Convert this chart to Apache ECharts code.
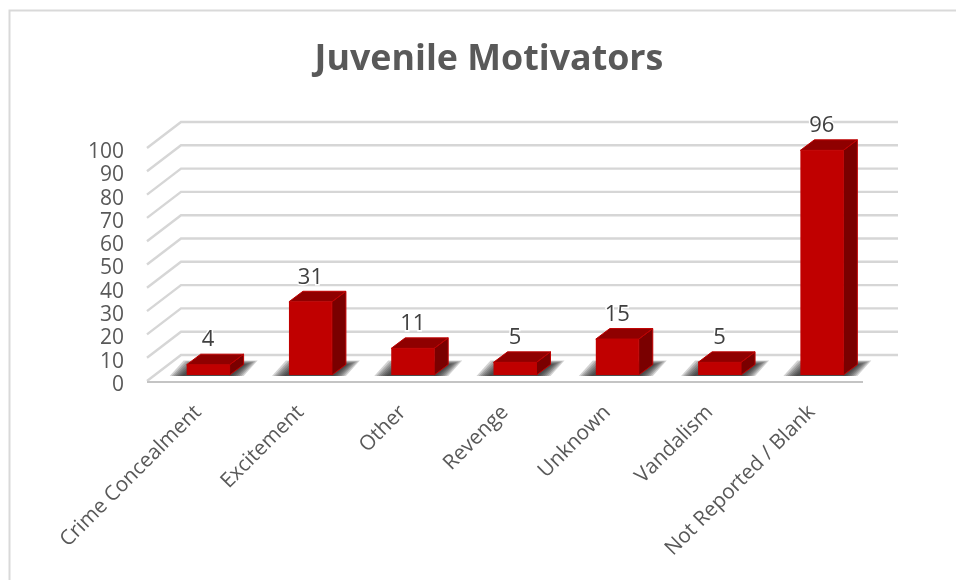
<!DOCTYPE html>
<html><head><meta charset="utf-8">
<style>html,body{margin:0;padding:0;background:#fff}#c{width:956px;height:580px}</style>
<script src="https://cdn.jsdelivr.net/npm/echarts@6/dist/echarts.min.js"></script>
</head><body><div id="c"></div>
<script>
const titleText = 'Juvenile Motivators';
const categories = ['Crime Concealment','Excitement','Other','Revenge','Unknown','Vandalism','Not Reported / Blank'];
const values = [4,31,11,5,15,5,96];
const yTicks = [0,10,20,30,40,50,60,70,80,90,100];

const FONT = '"Open Sans"';
const TXT = '#595959';
const WALL_DX = 34, WALL_DY = -26;
const BAR_DX = 14, BAR_DY = -10.5;
const BAR_SHIFT_X = 10, BAR_LIFT = 6;

const chart = echarts.init(document.getElementById('c'), null, {renderer:'canvas'});

function renderGrid(params, api){
  const v = api.value(0);
  const cs = params.coordSys;
  const y = api.coord([0, v])[1];
  const x0 = cs.x, x1 = cs.x + cs.width;
  const st = {stroke: '#d6d6d6', lineWidth: 2.4, fill: null};
  const kids = [
    {type:'polyline', shape:{points:[[x0,y],[x0+WALL_DX,y+WALL_DY],[x1+WALL_DX+1,y+WALL_DY]]}, style:st}
  ];
  if (v === 0) kids.push({type:'line', shape:{x1:x0,y1:y+1,x2:x1,y2:y+1}, style:{stroke:'#c4c4c4',lineWidth:2}});
  return {type:'group', children:kids};
}

function renderShadow(params, api){
  const i = api.value(0);
  const band = api.size([1,0])[0];
  const w = band*0.42;
  const xc = api.coord([i,0])[0] + BAR_SHIFT_X;
  const base = api.coord([i,0])[1] - BAR_LIFT;
  const l = xc-w/2, r = xc+w/2;
  const layers = [];
  for (let k = 0; k < 7; k++) {
    const e = 12 - 2*k;
    layers.push({type:'polygon', shape:{points:[
      [l-5-e, base+1],
      [r+2+e, base+1],
      [r+BAR_DX+2+e, base+BAR_DY-e/3],
      [l+BAR_DX-5-e, base+BAR_DY-e/3]
    ]}, style:{fill:'rgba(30,30,30,0.2)'}});
  }
  return {type:'group', children:layers};
}

function renderBar(params, api){
  const i = api.value(0), v = api.value(1);
  const band = api.size([1,0])[0];
  const w = band*0.42;
  const xc = api.coord([i,0])[0] + BAR_SHIFT_X;
  const base = api.coord([i,0])[1] - BAR_LIFT;
  const top = api.coord([i,v])[1] - BAR_LIFT - 1;
  const l = xc-w/2, r = xc+w/2;
  const edge = {stroke:'#c00000', lineWidth:1, lineJoin:'round'};
  return {type:'group', children:[
    {type:'polygon', shape:{points:[[r,top],[r+BAR_DX,top+BAR_DY],[r+BAR_DX,base+BAR_DY],[r,base]]},
      style:Object.assign({fill:'#7a0000'},edge)},
    {type:'polygon', shape:{points:[[l,top],[l+BAR_DX,top+BAR_DY],[r+BAR_DX,top+BAR_DY],[r,top]]},
      style:Object.assign({fill:'#8f0000'},edge)},
    {type:'rect', shape:{x:l,y:top,width:w,height:base-top},
      style:{fill:'#c00000'}},
    {type:'text', style:{text:String(v), x:xc, y:top+BAR_DY-14, align:'center', verticalAlign:'middle',
      fontFamily:FONT, fontSize:22, fill:'#404040', stroke:'#fff', lineWidth:3}}
  ]};
}

chart.setOption({
  animation:false,
  backgroundColor:'#fff',
  title:{text:titleText,left:484,top:37,textAlign:'center',
    textStyle:{fontFamily:FONT,fontSize:35.8,fontWeight:'bold',color:TXT}},
  graphic:[{type:'polyline',silent:true,shape:{points:[[9.5,580],[9.5,10.5],[956,10.5]]},
    style:{stroke:'#d9d9d9',lineWidth:2,fill:null}}],
  grid:{left:147,right:93,top:148,bottom:199},
  xAxis:{type:'category',data:categories,axisLine:{show:false},axisTick:{show:false},
    axisLabel:{rotate:45,interval:0,margin:28,fontFamily:FONT,fontSize:20.7,color:TXT}},
  yAxis:{type:'value',min:0,max:100,interval:10,splitLine:{show:false},axisLine:{show:false},axisTick:{show:false},
    axisLabel:{margin:23,verticalAlign:'top',lineHeight:8,fontFamily:FONT,fontSize:21,color:TXT}},
  series:[
    {type:'custom',renderItem:renderGrid,data:yTicks.map(t=>[t]),encode:{y:0},clip:false,z:1,silent:true},
    {type:'custom',renderItem:renderShadow,data:values.map((v,i)=>[i,v]),encode:{x:0,y:1},clip:false,z:2,silent:true},
    {type:'custom',renderItem:renderBar,data:values.map((v,i)=>[i,v]),encode:{x:0,y:1},clip:false,z:3,silent:true}
  ]
});
</script></body></html>
